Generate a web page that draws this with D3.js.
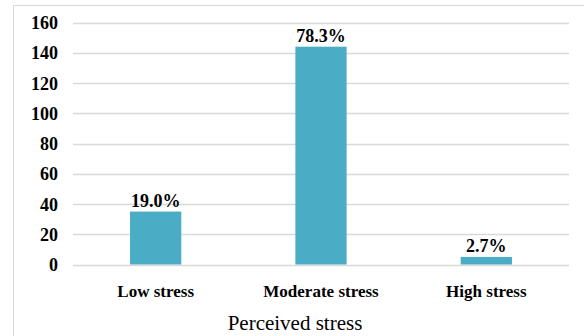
<!DOCTYPE html>
<html>
<head>
<meta charset="utf-8">
<style>
  html, body { margin: 0; padding: 0; background: #fff; }
  svg { display: block; }
  .tick text { font-family: "Liberation Serif", "Times New Roman", serif; }
</style>
</head>
<body>
<div class="chart"></div>
<script src="https://d3js.org/d3.v7.min.js"></script>
<script>
  // 資料
  const categories = ['Low stress', 'Moderate stress', 'High stress']
  const counts = [35, 144, 5]
  const percentLabels = ['19.0%', '78.3%', '2.7%']
  const yTicks = [0, 20, 40, 60, 80, 100, 120, 140, 160]
  const xTitle = 'Perceived stress'

  const width = 584, height = 336
  const plot = { left: 73, right: 569, top: 22.5, bottom: 264.5 }

  const svg = d3.select('.chart')
                .append('svg')
                .attr('width', width)
                .attr('height', height)

  // 外框 (只看得到左邊跟上面)
  svg.append('rect')
     .attr('x', 13.5)
     .attr('y', 5.5)
     .attr('width', width)
     .attr('height', height)
     .attr('fill', 'none')
     .attr('stroke', '#d9d9d9')
     .attr('stroke-width', 1)

  const xScale = d3.scaleBand()
                   .domain(categories)
                   .range([plot.left, plot.right])
                   .paddingInner(0.69)
                   .paddingOuter(0.345)

  const yScale = d3.scaleLinear()
                   .domain([0, 160])
                   .range([plot.bottom, plot.top])

  // 格線
  svg.append('g')
     .selectAll('line')
     .data(yTicks)
     .join('line')
     .attr('x1', plot.left)
     .attr('x2', plot.right)
     .attr('y1', d => Math.round(yScale(d)) + 0.5)
     .attr('y2', d => Math.round(yScale(d)) + 0.5)
     .attr('stroke', '#d9d9d9')
     .attr('stroke-width', 1.3)

  // y 軸文字
  const yAxis = d3.axisLeft(yScale)
                  .tickValues(yTicks)
                  .tickSize(0)
                  .tickPadding(0)
  const yAxisGroup = svg.append('g')
                        .attr('transform', 'translate(58,0)')
                        .call(yAxis)
  yAxisGroup.select('.domain').remove()
  yAxisGroup.selectAll('text')
            .attr('font-size', 18)
            .attr('font-weight', 'bold')
            .attr('fill', '#000')
            .attr('dy', '0.34em')

  // x 軸文字
  const xAxis = d3.axisBottom(xScale).tickSize(0).tickPadding(0)
  const xAxisGroup = svg.append('g')
                        .attr('transform', 'translate(0,283)')
                        .call(xAxis)
  xAxisGroup.select('.domain').remove()
  xAxisGroup.selectAll('text')
            .attr('font-size', 17)
            .attr('font-weight', 'bold')
            .attr('fill', '#000')
            .attr('dy', '0.8em')

  // 長條
  svg.selectAll('.bar')
     .data(counts)
     .join('rect')
     .attr('class', 'bar')
     .attr('x', (d, i) => xScale(categories[i]))
     .attr('width', xScale.bandwidth())
     .attr('y', d => yScale(d))
     .attr('height', d => yScale(0) - yScale(d))
     .attr('fill', '#4bacc6')

  // 百分比標籤
  svg.selectAll('.label')
     .data(counts)
     .join('text')
     .attr('class', 'label')
     .attr('x', (d, i) => xScale(categories[i]) + xScale.bandwidth() / 2)
     .attr('y', d => yScale(d) - 5)
     .attr('text-anchor', 'middle')
     .attr('font-family', '"Liberation Serif", "Times New Roman", serif')
     .attr('font-size', 18)
     .attr('font-weight', 'bold')
     .attr('fill', '#000')
     .text((d, i) => percentLabels[i])

  // x 軸標題
  svg.append('text')
     .attr('x', 295)
     .attr('y', 330)
     .attr('text-anchor', 'middle')
     .attr('font-family', '"Liberation Serif", "Times New Roman", serif')
     .attr('font-size', 21)
     .attr('fill', '#000')
     .text(xTitle)
</script>
</body>
</html>
